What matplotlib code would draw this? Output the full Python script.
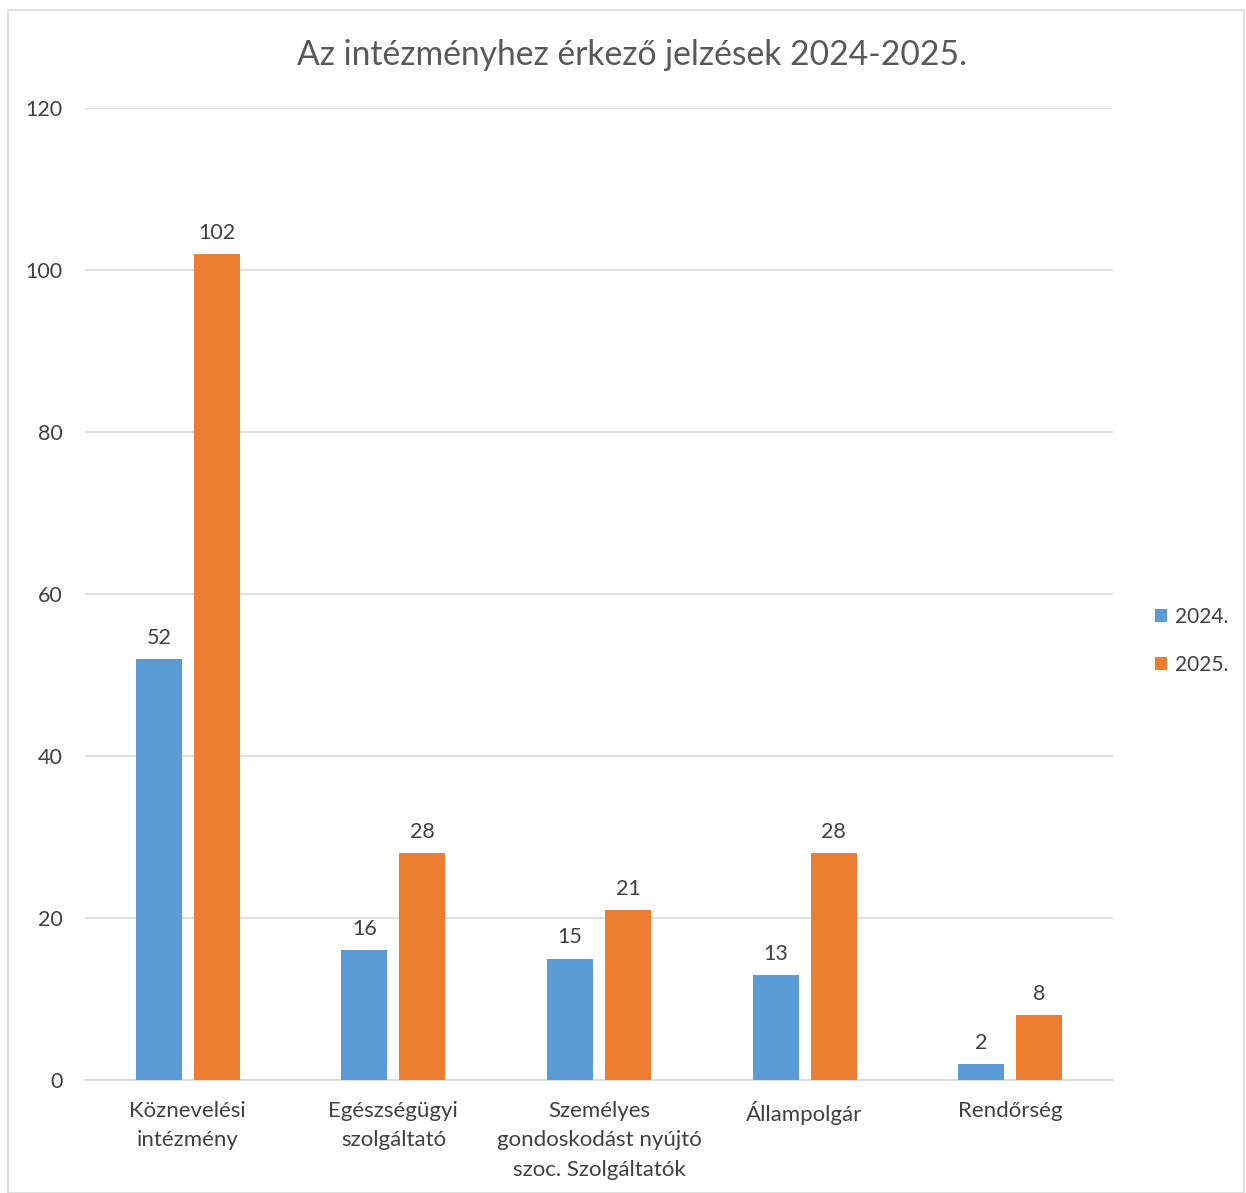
import numpy as np
import matplotlib.pyplot as plt
from matplotlib.patches import Rectangle

# === Adatok ===
kategoriak = ["Köznevelési\nintézmény", "Egészségügyi\nszolgáltató",
              "Személyes\ngondoskodást nyújtó\nszoc. Szolgáltatók",
              "Állampolgár", "Rendőrség"]
ev_2024 = [52, 16, 15, 13, 2]
ev_2025 = [102, 28, 21, 28, 8]
sorozatok = ["2024.", "2025."]
y_ticks = [0, 20, 40, 60, 80, 100, 120]

kek = "#5B9BD5"
narancs = "#ED7D31"
szoveg = "#404040"

plt.rcParams['font.family'] = ['Lato', 'DejaVu Sans']

fig = plt.figure(figsize=(12.46, 11.93), dpi=100)
ax = fig.add_axes([85 / 1246, 1 - 1080 / 1193, 1028 / 1246, 972 / 1193])

x = np.arange(len(kategoriak))
szel = 0.224
eltol = 0.141
b1 = ax.bar(x - eltol, ev_2024, szel, color=kek, label=sorozatok[0], zorder=3)
b2 = ax.bar(x + eltol, ev_2025, szel, color=narancs, label=sorozatok[1], zorder=3)

for bars, vals in ((b1, ev_2024), (b2, ev_2025)):
    for b, v in zip(bars, vals):
        ax.annotate(str(v), (b.get_x() + b.get_width() / 2, v),
                    xytext=(0, 8), textcoords="offset points",
                    ha="center", va="bottom", fontsize=15.5, color=szoveg)

ax.set_xlim(-0.5, len(kategoriak) - 0.5)
ax.set_ylim(0, 120)
ax.set_yticks(y_ticks)
ax.set_xticks(x)
ax.set_xticklabels(kategoriak, fontsize=16, color=szoveg, linespacing=1.6)
ax.tick_params(axis="y", labelsize=15.5, labelcolor=szoveg, length=0, pad=16)
ax.tick_params(axis="x", length=0, pad=15)
ax.grid(axis="y", color="#D9D9D9", linewidth=1.2, zorder=0)
for s in ("top", "right", "left"):
    ax.spines[s].set_visible(False)
ax.spines["bottom"].set_color("#D9D9D9")
ax.spines["bottom"].set_linewidth(1.2)

fig.text(632 / 1246, 1 - 55 / 1193, "Az intézményhez érkező jelzések 2024-2025.",
         ha="center", va="center", fontsize=24.2, color="#595959")

leg = fig.legend(handles=[b1, b2], labels=sorozatok, loc="center left",
                 bbox_to_anchor=(1136 / 1246, 1 - 641 / 1193), frameon=False,
                 fontsize=15, handlelength=0.6, handleheight=0.6,
                 handletextpad=0.35, labelspacing=1.35)
for t in leg.get_texts():
    t.set_color(szoveg)

# keret
fig.patches.append(Rectangle((8 / 1246, 0), 1236 / 1246, 1 - 10 / 1193,
                             transform=fig.transFigure, fill=False,
                             edgecolor="#D9D9D9", linewidth=1.2))

fig.savefig("out.png", dpi=100)
